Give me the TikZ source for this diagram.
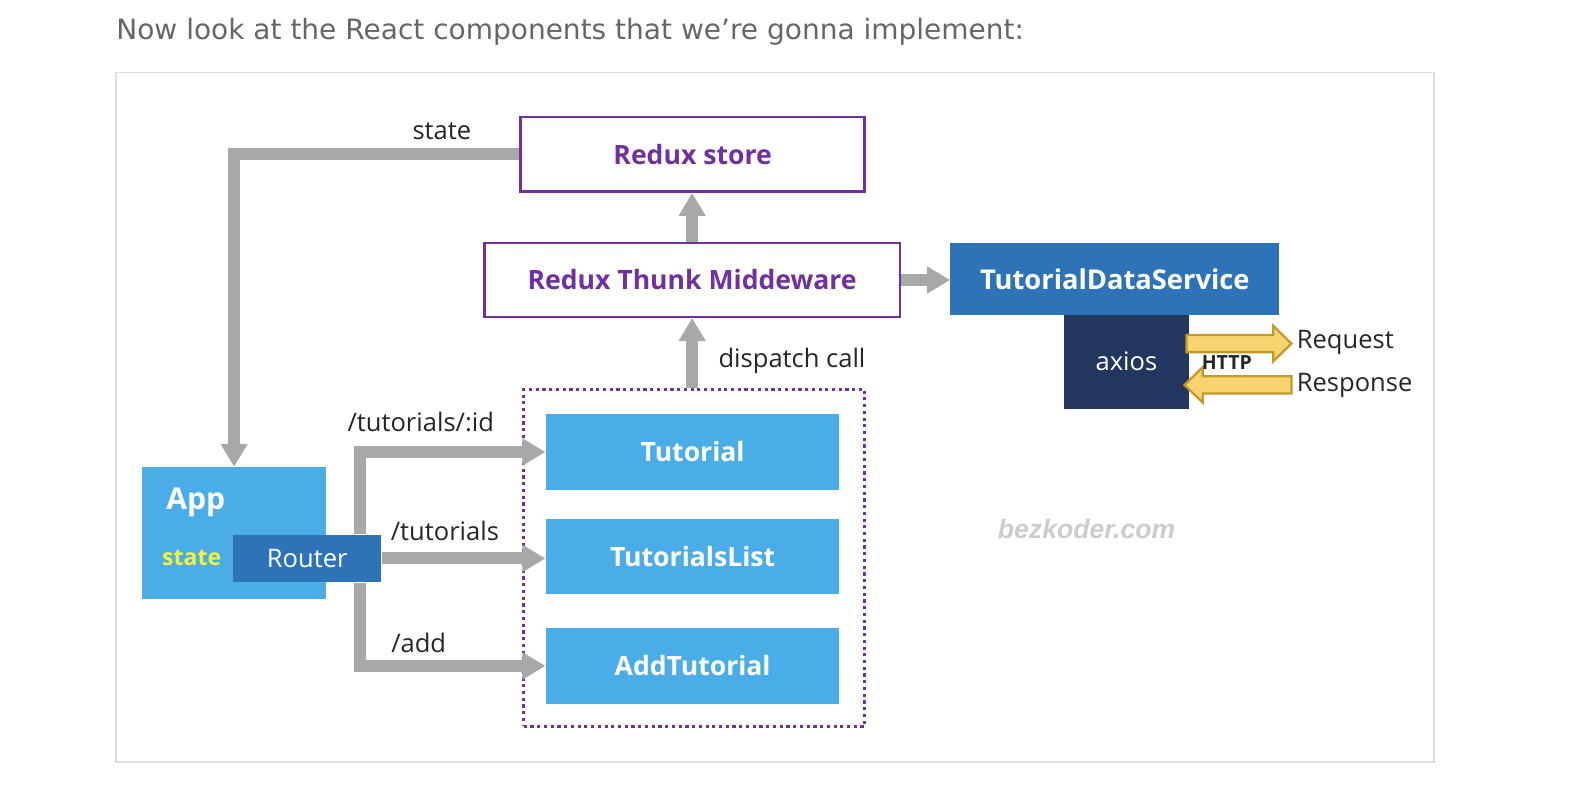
\documentclass[tikz,border=0pt]{standalone}
\usepackage{fontspec}
\setmainfont{Open Sans}
\newfontfamily\pagefont{DejaVu Sans}
\newfontfamily\markfont{Liberation Sans}
\usetikzlibrary{arrows.meta}
\definecolor{lightblue}{HTML}{4BADE8}
\definecolor{midblue}{HTML}{2E72B8}
\definecolor{navy}{HTML}{22365F}
\definecolor{purp}{HTML}{7030A0}
\definecolor{arrowgray}{HTML}{A8A8A8}
\definecolor{framegray}{HTML}{DDDDDD}
\definecolor{gold}{HTML}{F9D46E}
\definecolor{golddark}{HTML}{C39A2A}
\definecolor{stateyellow}{HTML}{F4F43A}
\tikzstyle{store} = [rectangle, draw=purp, line width=1.4pt, fill=white, text=purp,
    font=\fontsize{15}{18}\selectfont\bfseries, inner sep=0pt]
\tikzstyle{comp} = [rectangle, fill=lightblue, text=white,
    font=\fontsize{15}{18}\selectfont\bfseries, inner sep=0pt,
    minimum width=5.82cm, minimum height=1.52cm]
\tikzstyle{service} = [rectangle, fill=midblue, text=white, inner sep=0pt]
\tikzstyle{lbl} = [font=\fontsize{14.4}{17}\selectfont, text=black!85, inner sep=0pt]
\tikzstyle{line} = [draw=arrowgray, line width=6.8pt, -{Triangle[length=13pt, width=14.5pt]}]
\tikzstyle{http} = [fill=gold, draw=golddark, line width=1.3pt, line join=miter]

\begin{document}
\begin{tikzpicture}[x=0.02cm, y=-0.02cm]
      \useasboundingbox (0,0) rectangle (1568,779);
      \node[anchor=base west, inner sep=0pt, text=black!60,
        font=\pagefont\fontsize{15.8}{19}\selectfont] (title) at (115,39)
        {Now look at the React components that we’re gonna implement:};
      \draw[framegray, line width=0.9pt] (115,72) rectangle (1421,755);
      % redux part
      \node [store, minimum width=6.82cm, minimum height=1.48cm] (rs) at (686.5,153) {Redux store};
      \node [store, minimum width=8.24cm, minimum height=1.46cm] (rt) at (686,277.5) {Redux Thunk Middeware};
      \node [service, font=\fontsize{15.4}{18}\selectfont\bfseries,
        minimum width=6.52cm, minimum height=1.42cm] (tds) at (1105,276.5) {TutorialDataService};
      \node [service, fill=navy, font=\fontsize{14.4}{17}\selectfont,
        minimum width=2.46cm, minimum height=1.86cm] (ax) at (1116.5,358.5) {axios};
      % components
      \node [draw=purp, dotted, line width=1.8pt, minimum width=6.76cm,
        minimum height=6.68cm] (grp) at (688,553) {};
      \node [comp] (tut) at (686.5,448) {Tutorial};
      \node [comp, minimum height=1.5cm] (list) at (686.5,551.5) {TutorialsList};
      \node [comp] (add) at (686.5,660) {AddTutorial};
      \node [comp, minimum width=3.64cm, minimum height=2.62cm] (app) at (232,528.5) {};
      \node [text=white, font=\fontsize{17}{20}\selectfont\bfseries, inner sep=0pt] (appt) at (194,498) {App};
      \node [text=stateyellow, font=\fontsize{13}{16}\selectfont\bfseries, inner sep=0pt] (st) at (190,553) {state};
      \node [service, font=\fontsize{14.4}{17}\selectfont,
        minimum width=2.94cm, minimum height=0.94cm] (rtr) at (304.5,553.5) {Router};
      % connectors
      \coordinate (bus) at (357,0);
      \path [line] (rs.west) -| (app.north);
      \path [line] (rt.north) -- (rt.north |- rs.south);
      \path [line] (grp.north -| rt.south) -- (rt.south);
      \path [line] (rt.east) -- (rt.east -| tds.west);
      \path [line] (rtr.north -| bus) |- (tut.west);
      \path [line] (rtr.east) -- (rtr.east -| list.west);
      \path [line] (rtr.south -| bus) |- (add.west);
      % http arrows
      \draw [http] (1176,332) -- (1262,332) -- (1262,323) -- (1280,340.5) -- (1262,358)
        -- (1262,349) -- (1176,349) -- cycle;
      \draw [http] (1280,373) -- (1192,373) -- (1192,364) -- (1174,381.5) -- (1192,399)
        -- (1192,390) -- (1280,390) -- cycle;
      \node [lbl, font=\fontsize{11}{13}\selectfont\bfseries] (ht) at (1216,359) {HTTP};
      \node [lbl, anchor=west] (req) at (1285,339) {Request};
      \node [lbl, anchor=west] (res) at (1285,382) {Response};
      % labels
      \node [lbl] (ls) at (438,130) {state};
      \node [lbl] (ld) at (785,358) {dispatch call};
      \node [lbl] (l1) at (417,418) {/tutorials/:id};
      \node [lbl] (l2) at (441,526) {/tutorials};
      \node [lbl] (l3) at (415,637) {/add};
      \node [text=black!20, font=\markfont\fontsize{15}{18}\selectfont\bfseries\itshape,
        inner sep=0pt] (bz) at (1077,524) {bezkoder.com};
\end{tikzpicture}
\end{document}
